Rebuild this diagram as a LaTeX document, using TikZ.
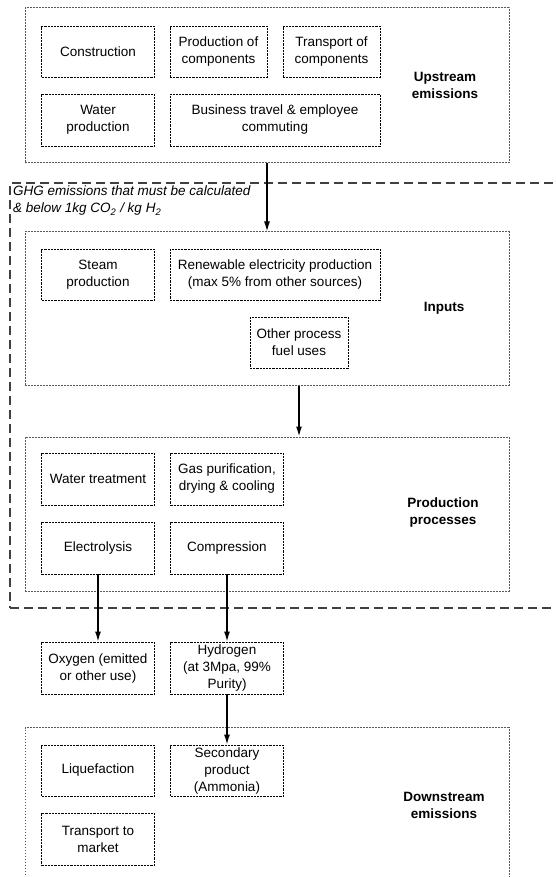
\documentclass[tikz,border=0pt]{standalone}
\usepackage{fontspec}
\setmainfont{Liberation Sans}
\usetikzlibrary{arrows.meta,positioning}

\begin{document}
\begin{tikzpicture}[
        x=1pt, y=-1pt,
        font=\fontsize{13.5}{17}\selectfont,
        >=Latex,
        item/.style={draw=black, dash pattern=on 2.2pt off 1pt, line width=0.8pt, align=center, inner sep=1pt, minimum height=51pt},
        group/.style={draw=black!65, dash pattern=on 1.8pt off 1.2pt, line width=1pt, minimum width=484pt},
        grouplabel/.style={font=\fontsize{13.5}{17}\selectfont\bfseries, align=center},
        ghgbox/.style={draw=black!75, dash pattern=on 9pt off 5pt, line width=1.6pt},
        link/.style={draw=black, line width=1.4pt, -{Latex[length=10pt,width=6pt]}}
    ]
        \clip (0,0) rectangle (555,877);

        \node[ghgbox, minimum width=570pt, minimum height=425pt, anchor=north west] (ghg) at (9,182) {};
        \node[anchor=north west, align=left, inner sep=0pt, font=\fontsize{13.5}{17}\selectfont\itshape] (ghglabel) at (13,186) {GHG emissions that must be calculated\\\& below 1kg CO\textsubscript{2} / kg H\textsubscript{2}};

        \node[group, minimum height=155pt] (upstream) at (267,85.5) {};
        \node[item, minimum width=113pt] (construction) at (98,51.5) {Construction};
        \node[item, minimum width=97pt] (components) at (218.5,51.5) {Production of\\components};
        \node[item, minimum width=97pt] (transport) at (331.5,51.5) {Transport of\\components};
        \node[item, minimum width=113pt, minimum height=52pt] (water) at (98,120) {Water\\production};
        \node[item, minimum width=210pt, minimum height=52pt] (travel) at (275,120) {Business travel \& employee\\commuting};
        \node[grouplabel] (upstreamlabel) at (445,85) {Upstream\\emissions};

        \node[group, minimum height=153pt] (inputs) at (267,308.5) {};
        \node[item, minimum width=113pt] (steam) at (98,274.5) {Steam\\production};
        \node[item, minimum width=210pt] (electricity) at (275,274.5) {Renewable electricity production\\(max 5\% from other sources)};
        \node[item, minimum width=98pt] (fuel) at (299,342.5) {Other process\\fuel uses};
        \node[grouplabel] (inputslabel) at (444,308) {Inputs};

        \node[group, minimum height=154pt] (production) at (267,514) {};
        \node[item, minimum width=113pt, minimum height=52pt] (treatment) at (98,479) {Water treatment};
        \node[item, minimum width=113pt, minimum height=52pt] (purification) at (227,479) {Gas purification,\\drying \& cooling};
        \node[item, minimum width=113pt, minimum height=52pt] (electrolysis) at (98,548) {Electrolysis};
        \node[item, minimum width=113pt, minimum height=52pt] (compression) at (227,548) {Compression};
        \node[grouplabel] (productionlabel) at (443,513) {Production\\processes};

        \node[item, minimum width=113pt, minimum height=52pt] (oxygen) at (98,668) {Oxygen (emitted\\or other use)};
        \node[item, minimum width=113pt, minimum height=52pt] (hydrogen) at (227,668) {Hydrogen\\(at 3Mpa, 99\%\\Purity)};

        \node[group, minimum height=200pt, anchor=north] (downstream) at (267,727) {};
        \node[item, minimum width=113pt] (liquefaction) at (98,770.5) {Liquefaction};
        \node[item, minimum width=113pt] (secondary) at (227,770.5) {Secondary\\product\\(Ammonia)};
        \node[item, minimum width=113pt, minimum height=52pt] (market) at (98,839) {Transport to\\market};
        \node[grouplabel] (downstreamlabel) at (444,805) {Downstream\\emissions};

        \draw[link] (upstream.south) -- (inputs.north);
        \draw[link] (fuel.south |- inputs.south) -- (fuel.south |- production.north);
        \draw[link] (electrolysis) -- (oxygen);
        \draw[link] (compression) -- (hydrogen);
        \draw[link] (hydrogen) -- (secondary);
    \end{tikzpicture}
\end{document}
